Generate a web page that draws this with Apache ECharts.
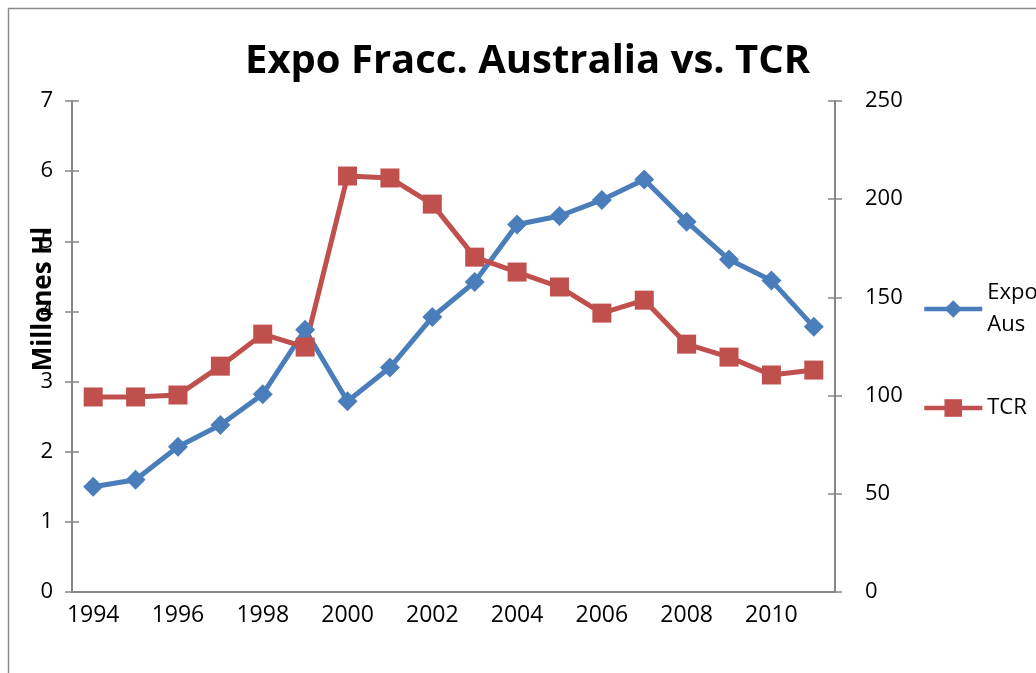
<!DOCTYPE html>
<html>
<head>
<meta charset="utf-8">
<script src="https://cdn.jsdelivr.net/npm/echarts@6/dist/echarts.min.js"></script>
<style>
	html, body { margin: 0; padding: 0; background: #fff; }
	#chart { width: 1036px; height: 673px; }
</style>
</head>
<body>
<div id="chart"></div>
<script>
	var years = ['1994', '1995', '1996', '1997', '1998', '1999', '2000', '2001', '2002',
		'2003', '2004', '2005', '2006', '2007', '2008', '2009', '2010', '2011'];
	// Expo Aus (millones Hl, eje izquierdo)
	var expoAus = [1.50, 1.60, 2.07, 2.38, 2.82, 3.74, 2.72, 3.20, 3.92,
		4.42, 5.24, 5.36, 5.59, 5.88, 5.28, 4.74, 4.44, 3.78];
	// TCR (eje derecho)
	var tcr = [99.3, 99.3, 100.3, 115, 131.3, 124.7, 211.8, 210.8, 197.5,
		170.5, 162.9, 155.3, 142, 148.6, 126.2, 119.6, 110.5, 113];

	var font = 'Open Sans';
	var axisGray = '#868686';
	var blue = '#4A7EBB';
	var red = '#C0504D';

	var myChart = echarts.init(document.getElementById('chart'));

	// ejes extra solo para que las marcas crucen la línea del eje
	function tickAxis(base, inside) {
		return Object.assign({}, base, {
			axisTick: Object.assign({}, base.axisTick, { inside: inside }),
			axisLabel: { show: false },
			splitLine: { show: false }
		});
	}

	var xBase = {
		type: 'category',
		data: years,
		boundaryGap: true,
		axisLine: { lineStyle: { color: axisGray, width: 2 } },
		axisTick: { interval: 0, length: 7, lineStyle: { color: axisGray, width: 1.5 } },
		axisLabel: { interval: 1, color: '#000', fontFamily: font, fontSize: 23, margin: 12 },
		splitLine: { show: false }
	};
	var yLeft = {
		type: 'value',
		min: 0, max: 7, interval: 1,
		position: 'left',
		axisLine: { show: true, lineStyle: { color: axisGray, width: 2 } },
		axisTick: { show: true, length: 7, lineStyle: { color: axisGray, width: 1.5 } },
		axisLabel: { color: '#000', fontFamily: font, fontSize: 22, margin: 19 },
		splitLine: { show: false }
	};
	var yRight = {
		type: 'value',
		min: 0, max: 250, interval: 50,
		position: 'right',
		axisLine: { show: true, lineStyle: { color: axisGray, width: 2 } },
		axisTick: { show: true, length: 7, lineStyle: { color: axisGray, width: 1.5 } },
		axisLabel: { color: '#000', fontFamily: font, fontSize: 22, margin: 30 },
		splitLine: { show: false }
	};

	myChart.setOption({
		animation: false,
		title: {
			text: 'Expo Fracc. Australia vs. TCR',
			left: 245,
			top: 42,
			padding: 0,
			textStyle: { fontFamily: font, fontWeight: 'bold', fontSize: 40, color: '#000' }
		},
		grid: { left: 72, right: 201, top: 101, bottom: 81 },
		legend: [{
			data: ['Expo Aus'],
			left: 922, top: 261,
			padding: 0,
			itemWidth: 58, itemHeight: 22,
			lineStyle: { width: 4.5 },
			formatter: function () { return 'Expo\nAus'; },
			textStyle: { fontFamily: font, fontSize: 22, color: '#000', lineHeight: 32, padding: [32, 0, 0, 0] }
		}, {
			data: ['TCR'],
			left: 922, top: 397,
			padding: 0,
			itemWidth: 58, itemHeight: 22,
			lineStyle: { width: 4.5 },
			textStyle: { fontFamily: font, fontSize: 22, color: '#000' }
		}],
		graphic: [{
			type: 'rect',
			shape: { x: 8.5, y: 8.5, width: 1100, height: 800 },
			style: { fill: 'none', stroke: '#8c8c8c', lineWidth: 1.5 },
			silent: true
		}, {
			type: 'text',
			x: 44, y: 299,
			rotation: Math.PI / 2,
			style: {
				text: 'Millones Hl',
				fontFamily: font, fontWeight: 'bold', fontSize: 26, fill: '#000',
				align: 'center', verticalAlign: 'middle'
			},
			z: 100
		}],
		xAxis: [xBase, tickAxis(xBase, true)],
		yAxis: [yLeft, yRight, tickAxis(yLeft, true), tickAxis(yRight, true)],
		series: [{
			name: 'Expo Aus',
			type: 'line',
			data: expoAus,
			yAxisIndex: 0,
			symbol: 'diamond',
			symbolSize: 20,
			lineStyle: { color: blue, width: 5 },
			itemStyle: { color: blue }
		}, {
			name: 'TCR',
			type: 'line',
			data: tcr,
			yAxisIndex: 1,
			symbol: 'rect',
			symbolSize: 19,
			lineStyle: { color: red, width: 5 },
			itemStyle: { color: red }
		}]
	});
	window.onresize = function () {
		myChart.resize();
	};
</script>
</body>
</html>
